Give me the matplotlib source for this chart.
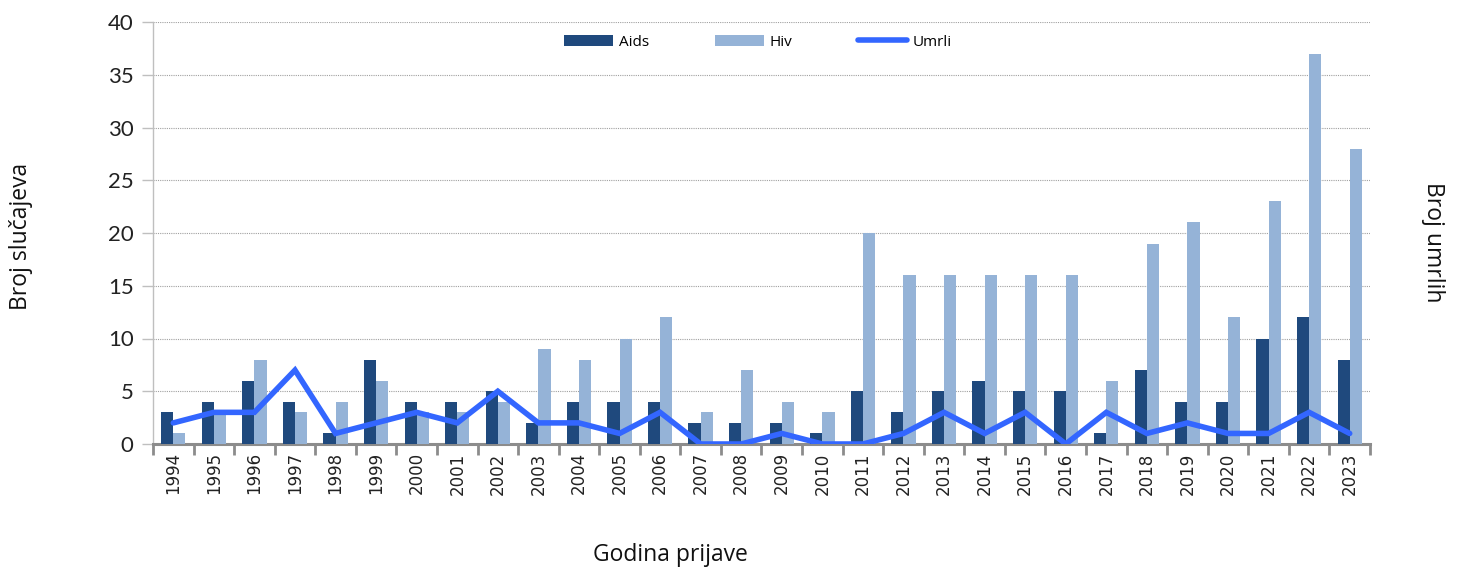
import matplotlib
matplotlib.use("Agg")
import matplotlib.pyplot as plt
import numpy as np
from matplotlib.lines import Line2D
from matplotlib.patches import Patch

years = [str(y) for y in range(1994, 2024)]
aids = [3, 4, 6, 4, 1, 8, 4, 4, 5, 2, 4, 4, 4, 2, 2, 2, 1, 5, 3, 5, 6, 5, 5, 1, 7, 4, 4, 10, 12, 8]
hiv = [1, 3, 8, 3, 4, 6, 3, 3, 4, 9, 8, 10, 12, 3, 7, 4, 3, 20, 16, 16, 16, 16, 16, 6, 19, 21, 12, 23, 37, 28]
umrli = [2, 3, 3, 7, 1, 2, 3, 2, 5, 2, 2, 1, 3, 0, 0, 1, 0, 0, 1, 3, 1, 3, 0, 3, 1, 2, 1, 1, 3, 1]

c_aids = "#1F497D"
c_hiv = "#95B3D7"
c_umrli = "#3366FF"
gray = "#8C8C8C"

fig = plt.figure(figsize=(14.64, 5.69), dpi=100)
ax = fig.add_axes([153/1464, 1-444/569, (1370-153)/1464, (444-22)/569])

x = np.arange(len(years))
w = 0.3
ax.bar(x - w/2, aids, width=w, color=c_aids, zorder=3)
ax.bar(x + w/2, hiv, width=w, color=c_hiv, zorder=3)

ax.set_xlim(-0.5, len(years) - 0.5)
ax.set_ylim(0, 40)
ax.set_yticks(range(0, 41, 5))
ax.yaxis.grid(True, linestyle=(0, (1, 1)), color="#A0A0A0", linewidth=0.8, zorder=0)
ax.set_axisbelow(True)

for s in ["top", "right"]:
    ax.spines[s].set_visible(False)
ax.spines["left"].set_color("#BFBFBF")
ax.spines["left"].set_linewidth(1)
ax.spines["bottom"].set_color(gray)
ax.spines["bottom"].set_linewidth(2.2)

ax.set_xticks(x)
ax.set_xticklabels(years, rotation=90, fontsize=12, family="DejaVu Sans", color="#222222")
ax.tick_params(axis="x", which="major", length=0, pad=6)
ax.set_xticks(np.arange(-0.5, len(years), 1.0), minor=True)
ax.tick_params(axis="x", which="minor", length=8, width=2, color=gray, direction="out")
ax.tick_params(axis="y", length=8, width=1, color="#BFBFBF", labelsize=16, pad=6, labelcolor="#222222")
for lab in ax.get_yticklabels():
    lab.set_family("Lato")

ax2 = ax.twinx()
ax2.plot(x, umrli, color=c_umrli, linewidth=4, solid_capstyle="round", solid_joinstyle="miter", zorder=5)
ax2.set_ylim(0, 40)
ax2.set_yticks([])
for s in ["top", "right", "left", "bottom"]:
    ax2.spines[s].set_visible(False)

fig.text(21/1464, 1-236/569, "Broj slučajeva", rotation=90, ha="center", va="center",
         fontsize=16.5, family="Open Sans", color="#111111")
fig.text(1433/1464, 1-242/569, "Broj umrlih", rotation=-90, ha="center", va="center",
         fontsize=16.5, family="Open Sans", color="#111111")
fig.text(670/1464, 1-555/569, "Godina prijave", ha="center", va="center",
         fontsize=16.5, family="Open Sans", color="#111111")

handles = [Patch(facecolor=c_aids, edgecolor="none"),
           Patch(facecolor=c_hiv, edgecolor="none"),
           Line2D([0], [0], color=c_umrli, linewidth=4, solid_capstyle="round")]
leg = fig.legend(handles, ["Aids", "Hiv", "Umrli"], loc="center", bbox_to_anchor=(758/1464, 1-42/569),
                 ncol=3, frameon=False, handlelength=3.2, handleheight=0.75,
                 handletextpad=0.4, columnspacing=4.3, prop={"family": "Open Sans", "size": 11})

fig.savefig("out.png", dpi=100)
